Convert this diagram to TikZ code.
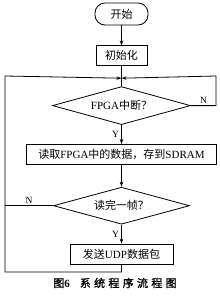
\documentclass[tikz,border=0pt]{standalone}
\usepackage{fontspec}
\setmainfont{Liberation Serif}
\newfontfamily\cjk{Noto Sans CJK SC}
\newfontfamily\cjkcap[LetterSpace=30,FakeBold=1.5]{Noto Sans CJK SC}
\usetikzlibrary{arrows.meta,positioning,shapes.geometric}

\begin{document}
\begin{tikzpicture}[x=1pt, y=-1pt, >={Stealth[length=5pt,width=3.5pt]}, line width=0.8pt,
  every node/.style={font=\fontsize{11}{12}\selectfont},
  term/.style={draw, rounded corners=10pt, minimum width=53pt, minimum height=22pt},
  proc/.style={draw, minimum height=20pt, inner sep=0pt},
  test/.style={draw, diamond, aspect=3.6, minimum width=138pt, minimum height=38pt, inner sep=0pt},
  lbl/.style={font=\fontsize{9.5}{10}\selectfont, inner sep=2pt}]
  \useasboundingbox (0,0) rectangle (220,298);
  \node[term] (start) at (121.5,14) {\cjk 开始};
  \node[proc, minimum width=51pt, below=20pt of start] (init) {\cjk 初始化};
  \node[test, below=20pt of init] (fpga) {FPGA{\cjk 中断？}};
  \node[proc, minimum width=190pt, below=19pt of fpga] (read) {{\cjk 读取}FPGA{\cjk 中的数据，存到}SDRAM};
  \node[test, minimum width=136pt, minimum height=37pt, below=22pt of read] (frame) {\cjk 读完一帧？};
  \node[proc, minimum width=103pt, below=19pt of frame] (send) {{\cjk 发送}UDP{\cjk 数据包}};
  \coordinate[below=12pt of init] (merge);
  \coordinate (rtop) at (216,76);
  \coordinate (ltop) at (5,76);
  \coordinate (lbot) at (5,272);
  \draw[->] (start) -- (init);
  \draw (init) -- (fpga);
  \draw[->] (fpga) -- node[lbl, left]{Y} (read);
  \draw[->] (read) -- (frame);
  \draw[->] (frame) -- node[lbl, left]{Y} (send);
  \draw[->] (fpga.east) -- node[lbl, above]{N} (fpga.east -| rtop) -- (rtop) -- (merge);
  \draw (frame.west) -- node[lbl, above]{N} (frame.west -| ltop);
  \draw[->] (send.south) -- (send.south |- lbot) -- (lbot) -- (ltop) -- (merge);
  \node[font=\fontsize{11}{12}\selectfont] (cap) at (115,283) {\cjkcap 图{\rmfamily\bfseries 6}\hspace{10pt}系统程序流程图};
\end{tikzpicture}
\end{document}
